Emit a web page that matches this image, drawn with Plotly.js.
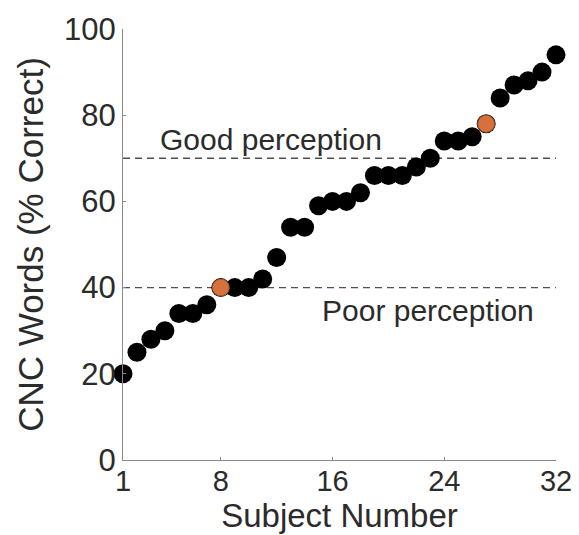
<!DOCTYPE html>
<html>
<head>
<meta charset="utf-8">
<script src="https://cdn.plot.ly/plotly-3.0.1.min.js"></script>
<style>html,body{margin:0;padding:0;background:#fff;}#chart{width:579px;height:535px;}</style>
</head>
<body>
<div id="chart"></div>
<script>
var subjects = [1,2,3,4,5,6,7,8,9,10,11,12,13,14,15,16,17,18,19,20,21,22,23,24,25,26,27,28,29,30,31,32];
var scores = [20,25,28,30,34,34,36,40,40,40,42,47,54,54,59,60,60,62,66,66,66,68,70,74,74,75,78,84,87,88,90,94];
var highlighted = [8, 27];
var thresholds = [40, 70];
var thresholdLabels = ["Poor perception", "Good perception"];
var xTickVals = [1, 8, 16, 24, 32];
var xTickText = ["1", "8", "16", "24", "32"];
var yTickVals = [0, 20, 40, 60, 80, 100];

var hlX = highlighted;
var hlY = highlighted.map(function(s){ return scores[subjects.indexOf(s)]; });

var font = "Liberation Sans, Arial, Helvetica, sans-serif";
var textColor = "#2b2b2b";

var traces = [];
thresholds.forEach(function(t){
  traces.push({
    x: [subjects[0], subjects[subjects.length-1]],
    y: [t, t],
    mode: "lines",
    line: {color: "#505050", width: 1.4, dash: "7px,5px"},
    hoverinfo: "skip",
    showlegend: false
  });
});
traces.push({
  x: subjects, y: scores, mode: "markers",
  marker: {color: "#000", size: 19, line: {width: 0}},
  cliponaxis: false, showlegend: false
});
traces.push({
  x: hlX, y: hlY, mode: "markers",
  marker: {color: "#d6703d", size: 17, line: {color: "#9a5533", width: 1}},
  cliponaxis: false, showlegend: false
});

var layout = {
  width: 579, height: 535,
  margin: {l: 123, r: 23, t: 29, b: 75},
  paper_bgcolor: "#fff", plot_bgcolor: "#fff",
  font: {family: font, color: textColor},
  showlegend: false,
  xaxis: {
    range: [1, 32], tickvals: xTickVals, ticktext: xTickText,
    showgrid: false, zeroline: false, showline: true, linecolor: "#8a8a8a", linewidth: 1,
    ticks: "inside", ticklen: 3, tickcolor: "#8a8a8a",
    ticklabelstandoff: -5,
    tickfont: {size: 29, family: font, color: textColor},
    title: {text: "Subject Number", font: {size: 33, family: font, color: textColor}, standoff: 2}
  },
  yaxis: {
    range: [0, 100], tickvals: yTickVals,
    showgrid: false, zeroline: false, showline: true, linecolor: "#8a8a8a", linewidth: 1,
    ticks: "inside", ticklen: 3, tickcolor: "#8a8a8a",
    tickfont: {size: 31, family: font, color: textColor},
    title: {text: "CNC Words (% Correct)", font: {size: 35, family: font, color: textColor}}
  },
  annotations: [
    {x: 3.5, y: thresholds[1], xref: "x", yref: "y", text: thresholdLabels[1], showarrow: false,
     xanchor: "left", yanchor: "bottom", yshift: 0, font: {size: 30, family: font, color: textColor}},
    {x: 15.1, y: thresholds[0], xref: "x", yref: "y", text: thresholdLabels[0], showarrow: false,
     xanchor: "left", yanchor: "top", yshift: -4, font: {size: 30, family: font, color: textColor}}
  ]
};

Plotly.newPlot("chart", traces, layout, {staticPlot: true, displayModeBar: false});
</script>
</body>
</html>
